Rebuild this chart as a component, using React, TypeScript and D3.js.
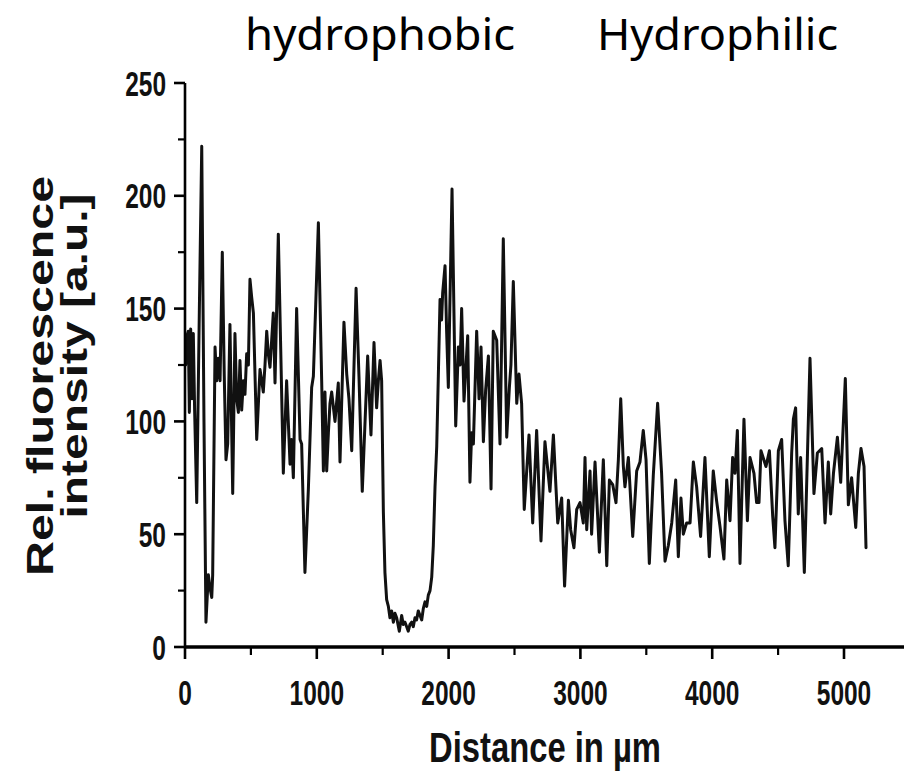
import React from 'react';
import * as d3 from 'd3';

const distanceUm = [5,15,25,33,43,53,63,73,89,109,127,144,159,177,190,203,210,228,240,253,266,283,298,311,324,341,362,379,392,405,417,430,443,455,468,481,493,506,519,544,569,582,594,607,620,632,645,670,683,708,746,771,797,809,822,847,873,885,910,936,961,974,1012,1037,1050,1062,1075,1088,1100,1113,1138,1163,1176,1206,1227,1244,1265,1298,1320,1345,1386,1411,1434,1454,1467,1480,1492,1505,1517,1530,1543,1555,1568,1581,1593,1606,1626,1644,1656,1669,1682,1694,1707,1720,1732,1745,1757,1770,1783,1796,1808,1821,1834,1846,1859,1872,1884,1897,1910,1922,1935,1947,1955,1973,1985,1998,2026,2054,2074,2087,2099,2117,2145,2162,2175,2188,2213,2231,2246,2264,2281,2302,2322,2339,2365,2390,2415,2441,2461,2473,2491,2517,2534,2554,2574,2610,2638,2668,2701,2731,2769,2795,2828,2858,2880,2909,2926,2951,2972,2997,3022,3035,3048,3073,3085,3111,3144,3174,3200,3220,3245,3270,3288,3306,3326,3338,3364,3397,3427,3452,3477,3498,3523,3553,3586,3616,3642,3667,3693,3723,3743,3763,3781,3806,3832,3857,3882,3912,3945,3978,4008,4033,4058,4089,4110,4135,4155,4173,4191,4211,4241,4267,4287,4317,4337,4355,4370,4408,4434,4459,4476,4502,4527,4552,4577,4603,4616,4633,4653,4671,4699,4742,4772,4798,4831,4856,4881,4899,4920,4950,4975,5010,5033,5058,5089,5109,5129,5152,5167];

const intensity = [125,138,140,104,141,110,139,105,64,150,222,100,11,32,26,22,32,133,118,128,118,175,120,83,90,143,68,139,110,104,127,105,118,112,130,125,163,155,148,92,123,118,113,125,140,130,124,148,117,183,77,118,81,92,75,150,92,90,33,70,115,120,188,118,78,113,78,95,108,113,100,117,82,144,121,110,87,159,120,69,129,94,135,106,118,127,118,60,33,21,18,13,16,11,15,13,7,14,10,11,9,7,10,11,9,13,12,16,14,12,17,20,18,23,25,31,45,71,89,120,154,145,157,169,140,115,203,98,133,125,150,109,138,73,95,90,140,110,133,91,114,129,70,140,136,90,181,93,115,125,162,108,121,108,61,94,55,96,47,91,69,94,55,66,27,65,52,44,61,64,55,84,52,78,50,82,42,83,36,74,72,64,83,110,80,71,84,49,78,82,96,83,37,76,108,77,38,45,55,74,40,66,50,55,55,82,71,49,84,40,78,65,54,39,74,56,84,77,96,37,101,56,84,77,64,64,87,80,87,58,44,87,92,56,36,86,101,106,59,84,33,128,68,86,88,55,82,59,77,93,73,119,63,75,53,77,88,80,44];

const xTickValues = [0, 1000, 2000, 3000, 4000, 5000];
const xMinorValues = [500, 1500, 2500, 3500, 4500];
const yTickValues = [0, 50, 100, 150, 200, 250];
const yMinorValues = [25, 75, 125, 175, 225];
const regionLabels = ['hydrophobic', 'Hydrophilic'];
const xTitle = 'Distance in \u00b5m';
const yTitleLines = ['Rel. fluorescence', 'intensity [a.u.]'];

export default function App() {
  const W = 904, H = 772;
  const x = d3.scaleLinear().domain([0, 5000]).range([185, 844]);
  const y = d3.scaleLinear().domain([0, 250]).range([647, 83]);
  const pts: [number, number][] = distanceUm.map((d, i) => [d, intensity[i]]);
  const line = d3.line<[number, number]>().x(d => x(d[0])).y(d => y(d[1]));
  const axisFont = '"Liberation Sans", Arial, sans-serif';
  const labelFont = '"Noto Sans", "Open Sans", sans-serif';

  return (
    <svg width={W} height={H} style={{ position: 'absolute', left: 0, top: 0, background: '#fff' }}>
      <rect width={W} height={H} fill="#fff" />
      {/* region labels */}
      <text x={245} y={50} fontFamily={labelFont} fontSize={43}
        textLength={270} lengthAdjust="spacingAndGlyphs" fill="#000">{regionLabels[0]}</text>
      <text x={597} y={50} fontFamily={labelFont} fontSize={43}
        textLength={241} lengthAdjust="spacingAndGlyphs" fill="#000">{regionLabels[1]}</text>

      {/* data line */}
      <path d={line(pts) || ''} fill="none" stroke="#111" strokeWidth={3} strokeLinejoin="round" strokeLinecap="round" />

      {/* axes */}
      <line x1={185} x2={904} y1={y(0)} y2={y(0)} stroke="#000" strokeWidth={3.5} />
      <line x1={x(0)} x2={x(0)} y1={y(0)} y2={y(250)} stroke="#000" strokeWidth={2.6} />
      {xTickValues.map(v => (
        <g key={'xt' + v}>
          <line x1={x(v)} x2={x(v)} y1={y(0)} y2={y(0) + 12} stroke="#000" strokeWidth={2.6} />
          <text transform={`translate(${x(v)},705) scale(1,1.4)`} textAnchor="middle" fontFamily={axisFont}
            fontWeight="bold" fontSize={24.5} fill="#111">{v}</text>
        </g>
      ))}
      {xMinorValues.map(v => (
        <line key={'xm' + v} x1={x(v)} x2={x(v)} y1={y(0)} y2={y(0) + 8} stroke="#000" strokeWidth={2.2} />
      ))}
      {yTickValues.map(v => (
        <g key={'yt' + v}>
          <line x1={x(0) - 11} x2={x(0)} y1={y(v)} y2={y(v)} stroke="#000" strokeWidth={2.6} />
          <text transform={`translate(166,${y(v) + 12.5}) scale(1,1.4)`} textAnchor="end" fontFamily={axisFont}
            fontWeight="bold" fontSize={24.5} fill="#111">{v}</text>
        </g>
      ))}
      {yMinorValues.map(v => (
        <line key={'ym' + v} x1={x(0) - 7} x2={x(0)} y1={y(v)} y2={y(v)} stroke="#000" strokeWidth={2.2} />
      ))}

      {/* titles */}
      <text transform={`translate(545,762) scale(1,1.4)`} textAnchor="middle" fontFamily={axisFont}
        fontWeight="bold" fontSize={31} fill="#111" textLength={232} lengthAdjust="spacingAndGlyphs">{xTitle}</text>
      <text transform="translate(53,376) rotate(-90)" textAnchor="middle" fontFamily={axisFont}
        fontWeight="bold" fontSize={37} fill="#111" textLength={400} lengthAdjust="spacingAndGlyphs">{yTitleLines[0]}</text>
      <text transform="translate(87,356) rotate(-90)" textAnchor="middle" fontFamily={axisFont}
        fontWeight="bold" fontSize={37} fill="#111" textLength={325} lengthAdjust="spacingAndGlyphs">{yTitleLines[1]}</text>
    </svg>
  );
}
